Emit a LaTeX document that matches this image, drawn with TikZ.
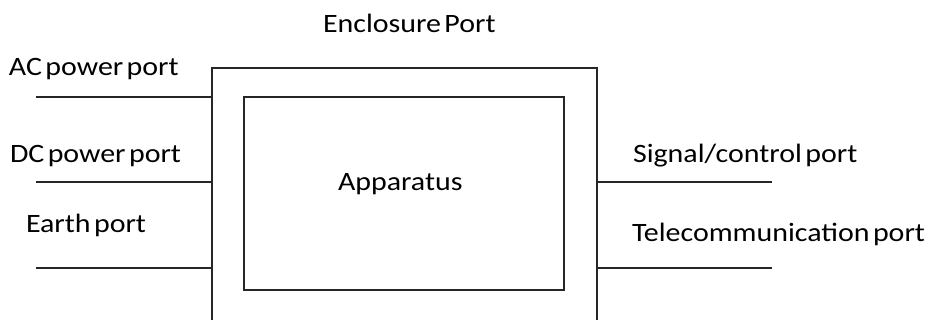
\documentclass[tikz,border=0pt]{standalone}
\usepackage{fontspec}
\setmainfont[FakeStretch=1.13, WordSpace=0.5]{Carlito}
\usepackage{tikz}
\usetikzlibrary{positioning}
\tikzset{
% Standard look for port lines and labels
portline/.style={draw=black!85, line width=1.6pt},
portlabel/.style={anchor=base west, inner sep=0, font=\fontsize{26.5}{30}\selectfont}
}

\begin{document}
\begin{tikzpicture}[x=1pt, y=-1pt, inner sep=0, outer sep=0]
  \useasboundingbox (0,0) rectangle (927,320);
  \clip (0,0) rectangle (927,320);

  \node[rectangle, portline,
    minimum width = 385pt,
    minimum height = 290pt] (enclosure) at (404.5, 213) {};
  \node[rectangle, portline,
    minimum width = 320pt,
    minimum height = 193pt] (apparatus) at (404, 193.5) {};

  \node[portlabel] (enclosure-text) at (323, 33) {Enclosure Port};
  \node[portlabel] (apparatus-text) at (338, 191) {Apparatus};

  % ports on the left
  \node[portlabel] (ac-text) at (9, 76) {AC power port};
  \node[portlabel] (dc-text) at (10, 163) {DC power port};
  \node[portlabel] (earth-text) at (26, 233) {Earth port};
  \coordinate (ac) at (36, 97);
  \coordinate (dc) at (36, 182);
  \coordinate (earth) at (36, 268);
  \draw[portline] (ac) -- (ac -| enclosure.west);
  \draw[portline] (dc) -- (dc -| enclosure.west);
  \draw[portline] (earth) -- (earth -| enclosure.west);

  % ports on the right
  \node[portlabel] (signal-text) at (633, 163) {Signal/control port};
  \node[portlabel] (telecom-text) at (632, 242) {Telecommunication port};
  \coordinate (signal) at (772, 182);
  \coordinate (telecom) at (772, 268);
  \draw[portline] (enclosure.east |- signal) -- (signal);
  \draw[portline] (enclosure.east |- telecom) -- (telecom);
\end{tikzpicture}
\end{document}
